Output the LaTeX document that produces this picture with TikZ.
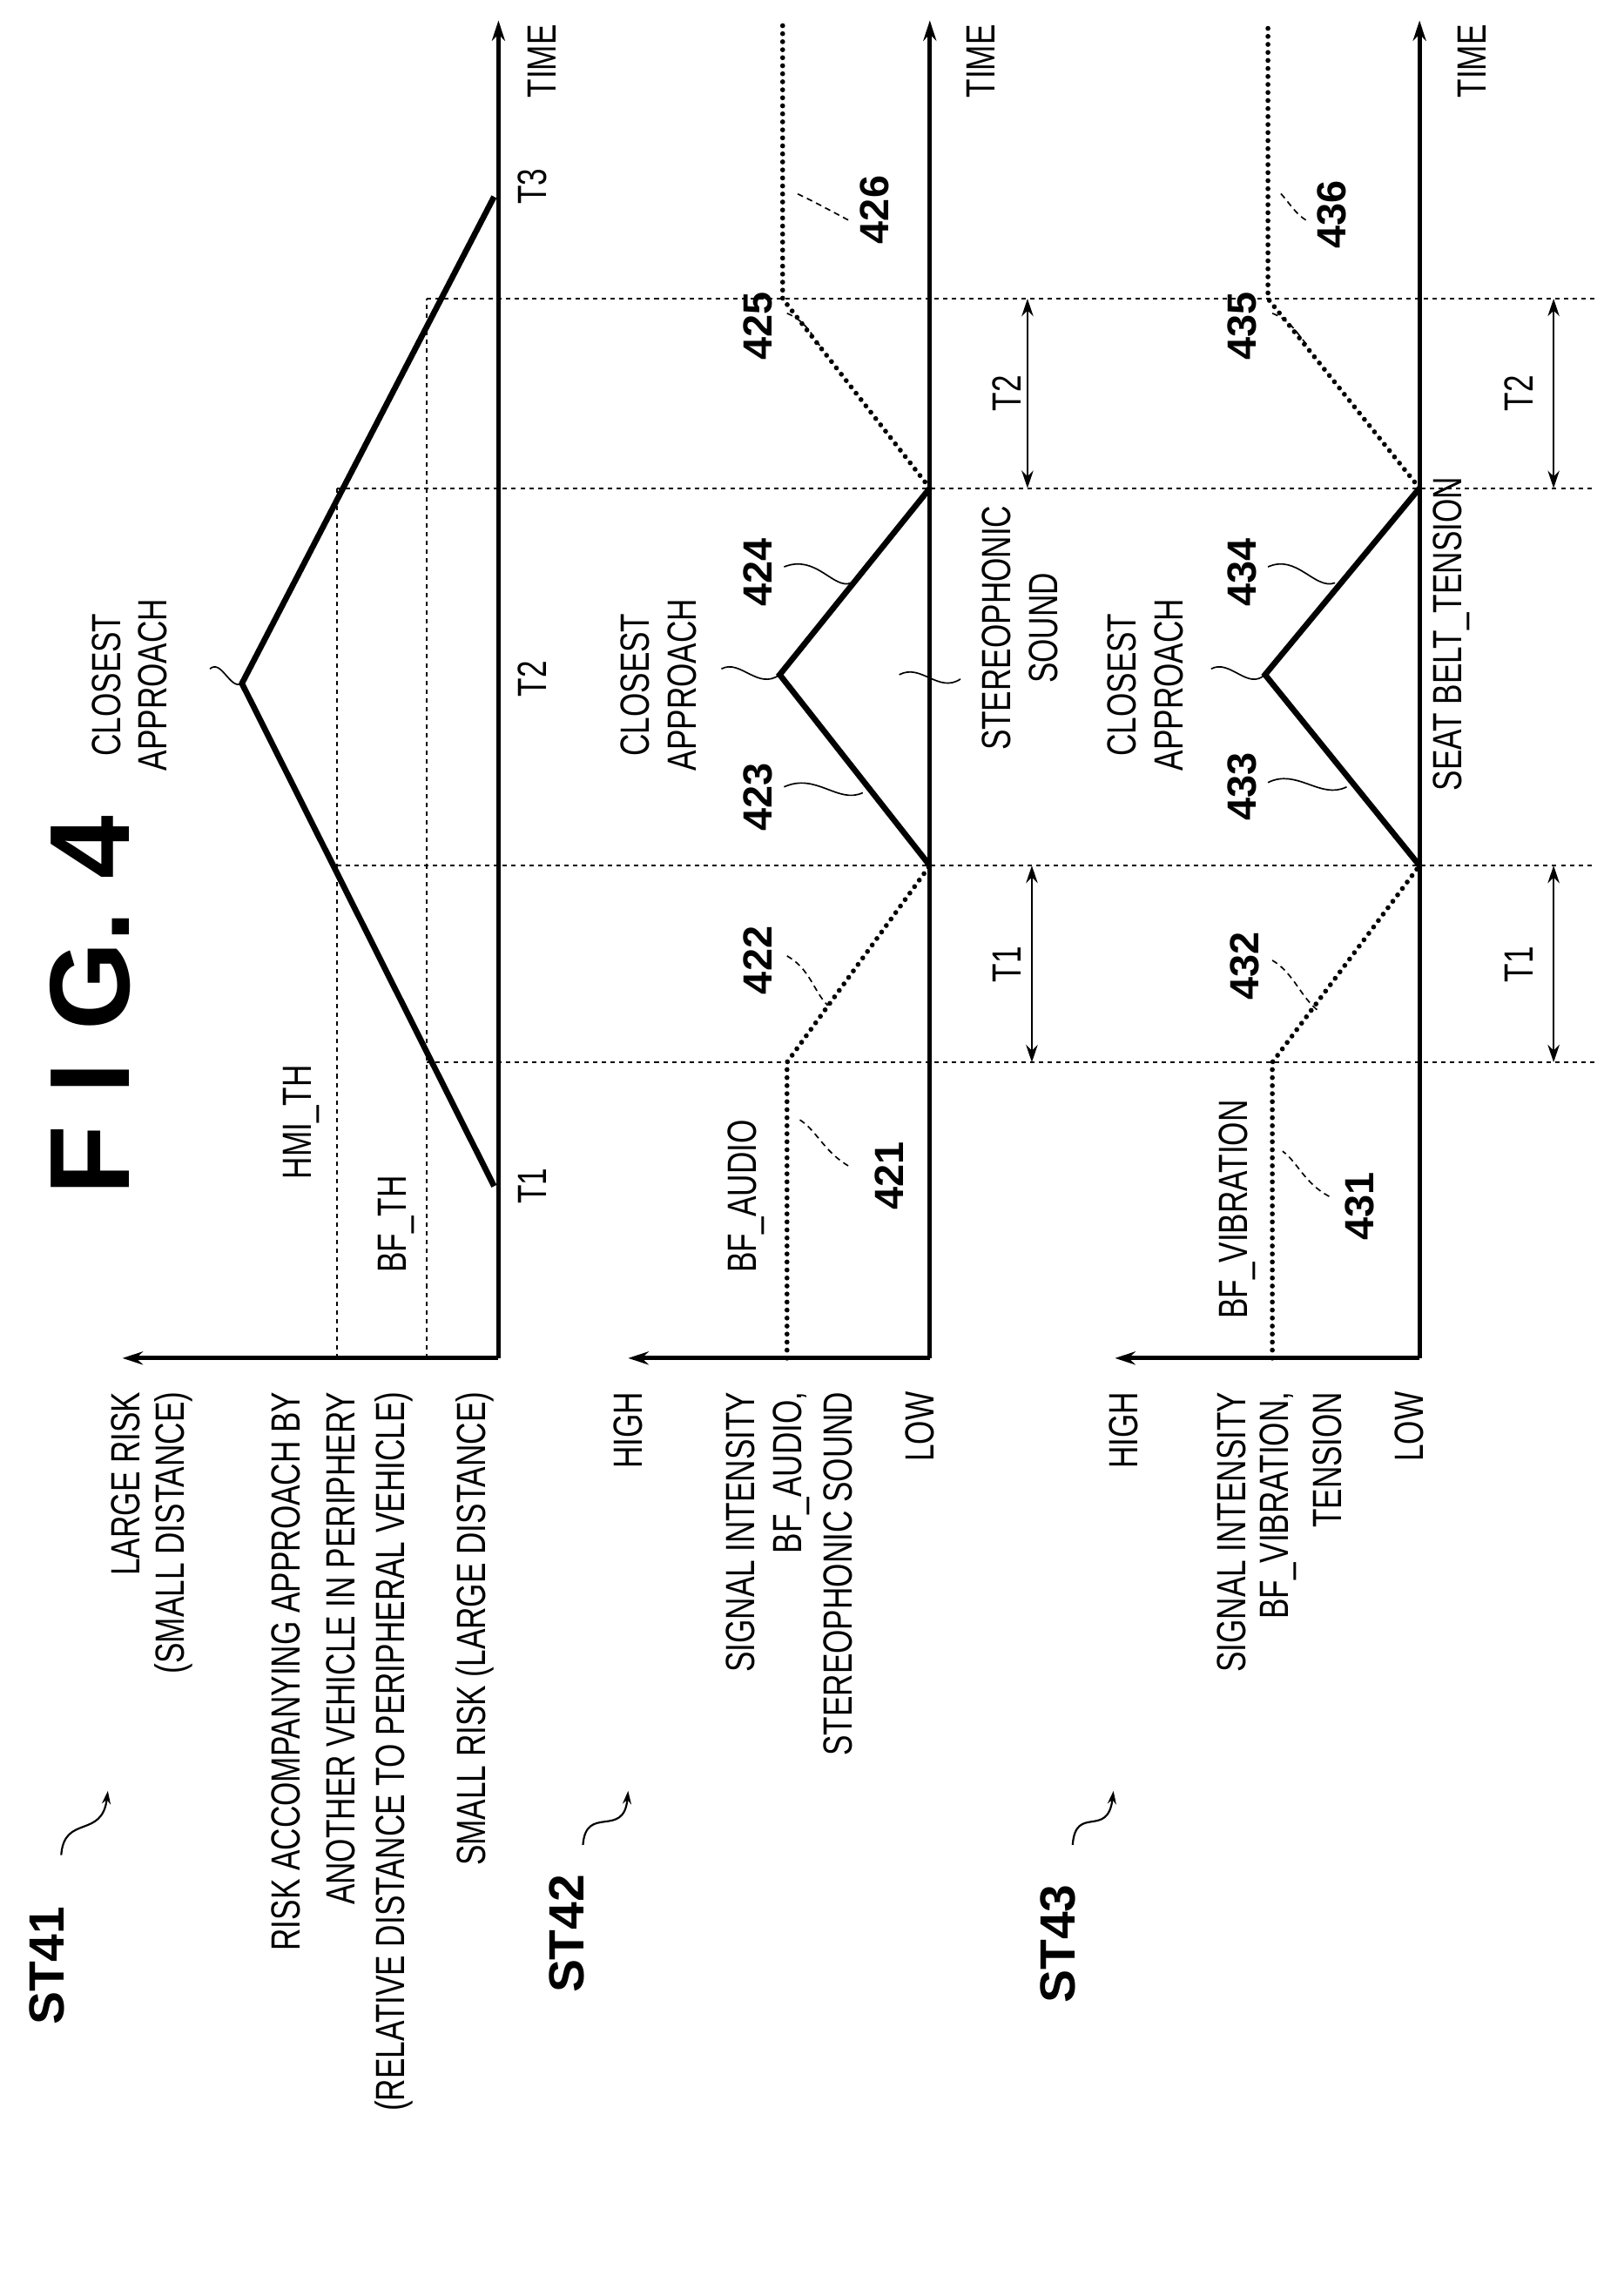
\documentclass[tikz,border=0pt]{standalone}
\usepackage{fontspec}
\setmainfont{Liberation Sans}
\usetikzlibrary{arrows.meta}
\newcommand{\nr}[1]{\scalebox{0.75}[1]{#1}}
\begin{document}
\begin{tikzpicture}[x=1pt,y=-1pt,
  txt/.style={rotate=90,inner sep=0pt,font=\fontsize{28}{32}\selectfont},
  lab/.style={txt,anchor=east},
  num/.style={rotate=90,inner sep=0pt,font=\fontsize{28}{32}\selectfont\bfseries},
  stl/.style={rotate=90,inner sep=0pt,font=\fontsize{34}{38}\selectfont\bfseries},
  axis/.style={line width=3pt,-{Stealth[length=14pt,width=9pt]}},
  grid/.style={line width=1.2pt,dash pattern=on 3pt off 3pt},
  sig/.style={line width=3.4pt,dash pattern=on 0pt off 5.5pt,line cap=round},
  sol/.style={line width=4pt},
  lead/.style={line width=1pt,dash pattern=on 4pt off 3pt},
  wave/.style={line width=1pt},
  dar/.style={line width=1.6pt,{Stealth[length=12pt,width=8pt]}-{Stealth[length=12pt,width=8pt]}}]
\useasboundingbox (0,0) rectangle (1100,1575.6);
% title
\node[rotate=90,inner sep=0pt,font=\fontsize{78}{80}\selectfont\bfseries] (fig) at (62,690) {F I G. 4};
% ---- coordinates
\coordinate (o1) at (342,932); \coordinate (t1) at (342,14); \coordinate (r1) at (84,932);
\coordinate (o2) at (638,932); \coordinate (t2) at (638,14); \coordinate (r2) at (431,932);
\coordinate (o3) at (974,932); \coordinate (t3) at (974,14); \coordinate (r3) at (765,932);
% grid
\coordinate (h1) at (231,932); \coordinate (h1t) at (231,335);
\coordinate (b1) at (293,932); \coordinate (b1t) at (293,205);
\coordinate (ga) at (231,594); \coordinate (gae) at (1094,594);
\coordinate (gb) at (231,335); \coordinate (gbe) at (1094,335);
\coordinate (gc) at (293,729); \coordinate (gce) at (1094,729);
\coordinate (gd) at (293,205); \coordinate (gde) at (1094,205);
\draw[grid] (h1) -- (h1t); \draw[grid] (b1) -- (b1t);
\draw[grid] (ga) -- (gae); \draw[grid] (gb) -- (gbe);
\draw[grid] (gc) -- (gce); \draw[grid] (gd) -- (gde);
% axes
\draw[axis] (o1) -- (t1); \draw[axis] (o1) -- (r1);
\draw[axis] (o2) -- (t2); \draw[axis] (o2) -- (r2);
\draw[axis] (o3) -- (t3); \draw[axis] (o3) -- (r3);
% ST41 triangle
\coordinate (p1) at (339,814); \coordinate (pk1) at (166,469); \coordinate (p3) at (339,135);
\draw[sol,line join=miter] (p1) -- (pk1) -- (p3);
% ST42 signal
\coordinate (a0) at (540,932); \coordinate (a1) at (540,729); \coordinate (a2) at (638,594);
\coordinate (a3) at (535,463); \coordinate (a4) at (638,335); \coordinate (a5) at (537,205);
\coordinate (a6) at (537,14);
\draw[sig] (a0) -- (a1) -- (a2);
\draw[sol] (a2) -- (a3) -- (a4);
\draw[sig] (a4) -- (a5) -- (a6);
% ST43 signal
\coordinate (c0) at (873,932); \coordinate (c1) at (873,729); \coordinate (c2) at (974,594);
\coordinate (c3) at (868,463); \coordinate (c4) at (974,335); \coordinate (c5) at (870,205);
\coordinate (c6) at (870,14);
\draw[sig] (c0) -- (c1) -- (c2);
\draw[sol] (c2) -- (c3) -- (c4);
\draw[sig] (c4) -- (c5) -- (c6);
% T arrows
\coordinate (da1) at (708,729); \coordinate (da2) at (708,594);
\coordinate (db1) at (705,335); \coordinate (db2) at (705,205);
\coordinate (dc1) at (1066,729); \coordinate (dc2) at (1066,594);
\coordinate (dd1) at (1066,335); \coordinate (dd2) at (1066,205);
\draw[dar] (da1) -- (da2); \draw[dar] (db1) -- (db2);
\draw[dar] (dc1) -- (dc2); \draw[dar] (dd1) -- (dd2);
\node[txt] (lt1a) at (691,662) {\nr{T1}};
\node[txt] (lt2a) at (691,270) {\nr{T2}};
\node[txt] (lt1b) at (1042,662) {\nr{T1}};
\node[txt] (lt2b) at (1042,270) {\nr{T2}};
% ST41 axis labels
\node[txt] (T1l) at (365,814) {\nr{T1}};
\node[txt] (T2l) at (365,466) {\nr{T2}};
\node[txt] (T3l) at (365,128) {\nr{T3}};
\node[txt] (tm1) at (372,42) {\nr{TIME}};
\node[txt] (tm2) at (673,42) {\nr{TIME}};
\node[txt] (tm3) at (1010,42) {\nr{TIME}};
\node[txt] (hmi) at (207,770) {\nr{HMI\_TH}};
\node[txt] (bfth) at (272,840) {\nr{BF\_TH}};
\node[txt] (bfa) at (512,821) {\nr{BF\_AUDIO}};
\node[txt] (bfv) at (849,830) {\nr{BF\_VIBRATION}};
% closest approach
\node[txt,align=center] (ca1) at (89,470) {\nr{CLOSEST}\\\nr{APPROACH}};
\node[txt,align=center] (ca2) at (452,470) {\nr{CLOSEST}\\\nr{APPROACH}};
\node[txt,align=center] (ca3) at (786,470) {\nr{CLOSEST}\\\nr{APPROACH}};
\node[txt,align=center] (ss) at (700,431) {\nr{STEREOPHONIC}\\\nr{SOUND}};
\node[txt] (sbt) at (996,435) {\nr{SEAT BELT\_TENSION}};
\coordinate (w1) at (144,459); \coordinate (w2) at (495,459); \coordinate (w3) at (831,459);
\draw[wave] (w1) .. controls (152,452) and (158,474) .. (pk1);
\draw[wave] (w2) .. controls (508,452) and (520,474) .. (a3);
\draw[wave] (w3) .. controls (844,452) and (856,474) .. (c3);
\coordinate (ws1) at (617,463); \coordinate (ws2) at (659,466);
\draw[wave] (ws1) .. controls (632,455) and (644,476) .. (ws2);
% left labels
\node[lab] (lr1) at (86,955) {\nr{LARGE RISK}};
\node[lab] (lr2) at (119,955) {\nr{(SMALL DISTANCE)}};
\node[lab] (ra1) at (196,955) {\nr{RISK ACCOMPANYING APPROACH BY}};
\node[lab] (ra2) at (234,955) {\nr{ANOTHER VEHICLE IN PERIPHERY}};
\node[lab] (ra3) at (270,955) {\nr{(RELATIVE DISTANCE TO PERIPHERAL VEHICLE)}};
\node[lab] (sr) at (326,955) {\nr{SMALL RISK (LARGE DISTANCE)}};
\node[lab] (hi2) at (431,955) {\nr{HIGH}};
\node[lab] (si2) at (508,955) {\nr{SIGNAL INTENSITY}};
\node[lab] (ba2) at (543,955) {\nr{BF\_AUDIO,}};
\node[lab] (st2) at (575,955) {\nr{STEREOPHONIC SOUND}};
\node[lab] (lo2) at (631,955) {\nr{LOW}};
\node[lab] (hi3) at (771,955) {\nr{HIGH}};
\node[lab] (si3) at (845,955) {\nr{SIGNAL INTENSITY}};
\node[lab] (bv3) at (877,955) {\nr{BF\_VIBRATION,}};
\node[lab] (te3) at (911,955) {\nr{TENSION}};
\node[lab] (lo3) at (967,955) {\nr{LOW}};
% ST labels
\node[stl] (st41) at (32,1349) {ST41};
\node[stl] (st42) at (389,1327) {ST42};
\node[stl] (st43) at (726,1334) {ST43};
\coordinate (s1a) at (42,1273); \coordinate (s1b) at (74,1229);
\coordinate (s2a) at (400,1266); \coordinate (s2b) at (431,1229);
\coordinate (s3a) at (736,1266); \coordinate (s3b) at (764,1229);
\draw[wave,line width=1.3pt,-{Stealth[length=9pt,width=6pt]}] (s1a) .. controls (44,1245) and (70,1262) .. (s1b);
\draw[wave,line width=1.3pt,-{Stealth[length=9pt,width=6pt]}] (s2a) .. controls (402,1238) and (428,1262) .. (s2b);
\draw[wave,line width=1.3pt,-{Stealth[length=9pt,width=6pt]}] (s3a) .. controls (738,1238) and (760,1262) .. (s3b);
% numbers
\node[num] (n421) at (610,807) {421};
\node[num] (n422) at (520,659) {422};
\node[num] (n423) at (520,547) {423};
\node[num] (n424) at (520,393) {424};
\node[num] (n425) at (520,224) {425};
\node[num] (n426) at (600,144) {426};
\node[num] (n431) at (933,828) {431};
\node[num] (n432) at (854,663) {432};
\node[num] (n433) at (852,540) {433};
\node[num] (n434) at (852,393) {434};
\node[num] (n435) at (852,224) {435};
\node[num] (n436) at (914,147) {436};
% leaders
\coordinate (l421a) at (582,800); \coordinate (l421b) at (548,768);
\coordinate (l422a) at (540,656); \coordinate (l422b) at (568,690);
\coordinate (l423a) at (538,540); \coordinate (l423b) at (592,544);
\coordinate (l424a) at (538,389); \coordinate (l424b) at (584,400);
\coordinate (l425a) at (540,215); \coordinate (l425b) at (563,238);
\coordinate (l426a) at (582,151); \coordinate (l426b) at (545,132);
\coordinate (l431a) at (912,821); \coordinate (l431b) at (880,790);
\coordinate (l432a) at (873,659); \coordinate (l432b) at (905,694);
\coordinate (l433a) at (870,537); \coordinate (l433b) at (924,540);
\coordinate (l434a) at (870,389); \coordinate (l434b) at (916,400);
\coordinate (l435a) at (873,215); \coordinate (l435b) at (898,238);
\coordinate (l436a) at (896,151); \coordinate (l436b) at (878,132);
\draw[lead] (l421a) .. controls (565,790) and (560,775) .. (l421b);
\draw[lead] (l422a) .. controls (556,665) and (558,680) .. (l422b);
\draw[wave] (l423a) .. controls (560,530) and (575,552) .. (l423b);
\draw[wave] (l424a) .. controls (560,380) and (572,405) .. (l424b);
\draw[lead] (l425a) .. controls (552,220) and (556,228) .. (l425b);
\draw[lead] (l426a) .. controls (565,142) and (558,138) .. (l426b);
\draw[lead] (l431a) .. controls (895,812) and (890,797) .. (l431b);
\draw[lead] (l432a) .. controls (888,668) and (892,684) .. (l432b);
\draw[wave] (l433a) .. controls (890,527) and (906,549) .. (l433b);
\draw[wave] (l434a) .. controls (890,380) and (902,405) .. (l434b);
\draw[lead] (l435a) .. controls (886,220) and (889,228) .. (l435b);
\draw[lead] (l436a) .. controls (888,146) and (884,138) .. (l436b);
\end{tikzpicture}
\end{document}
